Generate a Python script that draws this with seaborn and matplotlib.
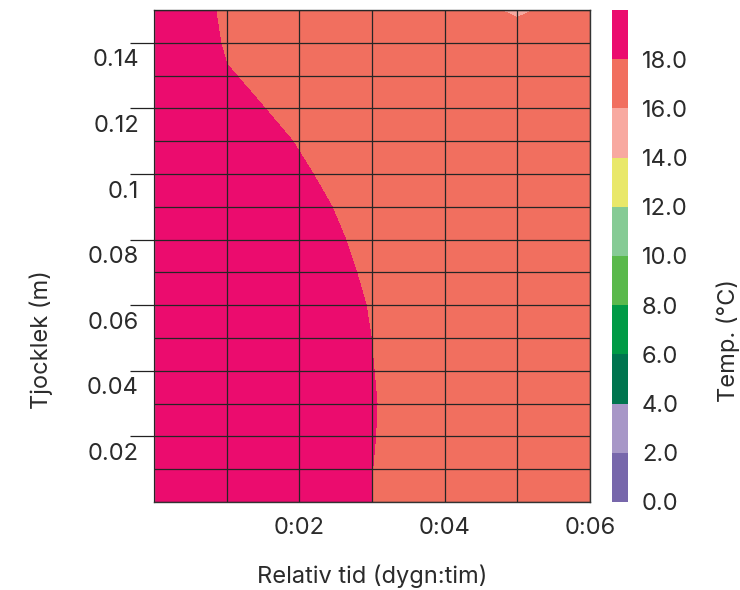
import matplotlib
matplotlib.use("Agg")
import numpy as np
import pandas as pd
import matplotlib.pyplot as plt
import seaborn as sns
from matplotlib.transforms import ScaledTranslation

# time axis (hours) and depth axis (m)
hours = [0, 1, 2, 3, 4, 5, 6]
depths = [0.00, 0.01, 0.02, 0.03, 0.04, 0.05, 0.06, 0.07,
          0.08, 0.09, 0.10, 0.11, 0.12, 0.13, 0.14, 0.15]

# temperature per time step, from 0 m up to 0.15 m
temp_0h = [19.9, 19.9, 19.9, 19.9, 19.9, 19.9, 19.8, 19.8,
           19.8, 19.7, 19.7, 19.6, 19.5, 19.5, 19.15, 19.13]
temp_1h = [19.9, 19.9, 19.9, 19.9, 19.9, 19.8, 19.8, 19.7,
           19.7, 19.7, 19.6, 19.52, 19.0, 18.056, 17.9, 17.8]
temp_2h = [19.7, 19.7, 19.7, 19.7, 19.6, 19.4, 19.3, 19.2,
           19.1, 18.9, 18.32, 17.85, 17.11, 17.656, 17.0, 17.0]
temp_3h = [18.005, 18.01, 18.053, 18.075, 18.031, 17.986, 17.887, 17.68,
           17.38, 16.9, 16.64, 17.0, 17.0, 17.0, 17.0, 17.0]
temp_4h = [17.0, 17.0, 17.0, 17.0, 17.0, 17.0, 17.0, 17.0,
           17.0, 17.0, 17.0, 17.0, 17.0, 17.0, 17.0, 17.0]
temp_5h = [17.0, 17.0, 17.0, 17.0, 17.0, 17.0, 17.0, 17.0,
           17.0, 17.0, 17.0, 17.0, 17.0, 17.0, 17.0, 15.7]
temp_6h = [17.0, 17.0, 17.0, 17.0, 17.0, 17.0, 17.0, 17.0,
           17.0, 17.0, 17.0, 17.0, 17.0, 17.0, 17.0, 17.0]

levels = [0, 2, 4, 6, 8, 10, 12, 14, 16, 18, 20]
level_colors = ["#7767ab", "#a797c7", "#00754f", "#009a45", "#5ab94b",
                "#86cb95", "#e9e86a", "#f8a9a0", "#f16f5f", "#eb0c6e"]

x_ticks = [2, 4, 6]
x_ticklabels = ["0:02", "0:04", "0:06"]
y_ticks = [0.02, 0.04, 0.06, 0.08, 0.10, 0.12, 0.14]
y_ticklabels = ["0.02", "0.04", "0.06", "0.08", "0.1", "0.12", "0.14"]
cbar_ticks = [0, 2, 4, 6, 8, 10, 12, 14, 16, 18]

sns.set_theme(style="white")
plt.rcParams["font.family"] = ["Inter", "DejaVu Sans"]
text_col = "#2b2b2b"
fs = 17

df = pd.DataFrame({h: col for h, col in zip(hours, [temp_0h, temp_1h, temp_2h, temp_3h,
                                                   temp_4h, temp_5h, temp_6h])},
                  index=depths)

W, H = 740, 590
fig = plt.figure(figsize=(W / 100, H / 100), dpi=100)
ax = fig.add_axes([154 / W, 88 / H, 436 / W, 492 / H])
cax = fig.add_axes([612 / W, 88 / H, 16 / W, 492 / H])

cs = ax.contourf(df.columns.values, df.index.values, df.values,
                 levels=levels, colors=level_colors)

ax.set_xlim(0, 6)
ax.set_ylim(0, 0.15)

# grid every hour / every cm, labelled ticks sparser
ax.set_xticks(x_ticks)
ax.set_xticklabels(x_ticklabels)
ax.set_xticks(hours, minor=True)
ax.set_yticks(y_ticks)
ax.set_yticklabels(y_ticklabels)
ax.set_yticks(depths, minor=True)
ax.set_axisbelow(False)
ax.grid(True, which="both", color="#262626", linewidth=0.9)

ax.tick_params(axis="x", which="both", bottom=True, length=0, pad=11,
               labelsize=fs, labelcolor=text_col)
ax.tick_params(axis="y", which="major", left=True, length=17.3, width=0.9,
               color="#222222", pad=-6.5, labelsize=fs, labelcolor=text_col)
ax.tick_params(axis="y", which="minor", length=0)

for side in ["top", "right", "bottom"]:
    ax.spines[side].set_color("#333333")
    ax.spines[side].set_linewidth(1.0)
ax.spines["left"].set_color("#9a9a9a")
ax.spines["left"].set_linewidth(1.0)

ax.set_xlabel("Relativ tid (dygn:tim)", fontsize=fs, color=text_col, labelpad=18)
ax.set_ylabel("Tjocklek (m)", fontsize=fs, color=text_col)
ax.yaxis.set_label_coords(-0.232, 0.33)

# y labels sit under their tick lines
shift = ScaledTranslation(0, -0.15, fig.dpi_scale_trans)
for lab in ax.get_yticklabels():
    lab.set_transform(lab.get_transform() + shift)

cb = fig.colorbar(cs, cax=cax, ticks=cbar_ticks, format="%.1f")
cb.outline.set_visible(False)
cax.tick_params(length=0, pad=10, labelsize=fs, labelcolor=text_col)
fig.text(728 / W, 1 - 341 / H, "Temp. (°C)", rotation=90, ha="center", va="center",
         fontsize=fs, color=text_col)

fig.savefig("out.png", dpi=100)
